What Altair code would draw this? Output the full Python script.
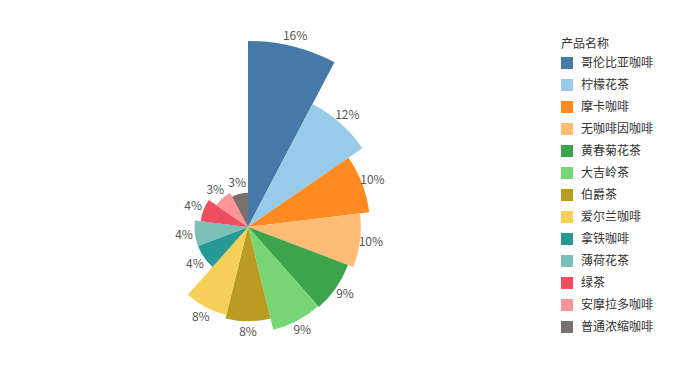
import altair as alt
import pandas as pd
import math

products = ["哥伦比亚咖啡", "柠檬花茶", "摩卡咖啡", "无咖啡因咖啡", "黄春菊花茶", "大吉岭茶",
            "伯爵茶", "爱尔兰咖啡", "拿铁咖啡", "薄荷花茶", "绿茶", "安摩拉多咖啡", "普通浓缩咖啡"]
values = [1600, 1194, 1050, 970, 920, 910, 810, 780, 460, 460, 410, 330, 295]
colors = ["#4779a8", "#98cbea", "#ff8a22", "#ffbb74", "#3ca44a", "#77d576", "#bc9b22",
          "#f5cf57", "#269b95", "#7bbfb6", "#ef4e5e", "#ff9598", "#7a706e"]

# percentages with largest-remainder rounding (sum = 100)
total = sum(values)
raw = [v / total * 100 for v in values]
floors = [math.floor(r) for r in raw]
rest = 100 - sum(floors)
order = sorted(range(len(raw)), key=lambda i: raw[i] - floors[i], reverse=True)
for i in order[:rest]:
    floors[i] += 1
labels = [f"{p}%" for p in floors]

n = len(values)
df = pd.DataFrame({
    "产品名称": products,
    "value": values,
    "one": [1] * n,
    "idx": list(range(n)),
    "label": labels,
})

cx, cy = 248, 227
theta_scale = alt.Scale(domain=[0, n], range=[0, 2 * math.pi])
radius = alt.Radius("value:Q", scale=alt.Scale(type="linear", zero=True, domain=[0, 1600], range=[0, 186]))

base = alt.Chart(df).transform_window(
    cum="sum(one)", sort=[alt.SortField("idx")], frame=[None, 0]
).transform_calculate(
    start="datum.cum - 1", mid="datum.cum - 0.5"
)

arcs = base.mark_arc().encode(
    theta=alt.Theta("start:Q", scale=theta_scale),
    theta2="cum:Q",
    radius=radius,
    x=alt.value(cx),
    y=alt.value(cy),
    color=alt.Color("产品名称:N", sort=products,
                    scale=alt.Scale(domain=products, range=colors),
                    legend=alt.Legend(
                        orient="none", legendX=561, legendY=39,
                        title="产品名称", titleFontSize=12, titleFont="Noto Sans CJK SC",
                        titleFontWeight="normal", titleColor="#333", titlePadding=6,
                        labelFontSize=12, labelFont="Noto Sans CJK SC", labelColor="#333",
                        symbolType="square", symbolSize=144, symbolStrokeWidth=0,
                        rowPadding=10, labelOffset=8,
                    )),
)

texts = base.mark_text(radiusOffset=11, fontSize=12, font="Noto Sans CJK SC", color="#555").encode(
    theta=alt.Theta("mid:Q", scale=theta_scale),
    radius=radius,
    x=alt.value(cx),
    y=alt.value(cy),
    text="label:N",
)

chart = (arcs + texts).properties(
    width=700, height=365, padding=0,
    autosize=alt.AutoSizeParams(type="none"),
).configure_view(stroke=None)

chart.save("out.html", embed_options={"renderer": "svg", "actions": False})
